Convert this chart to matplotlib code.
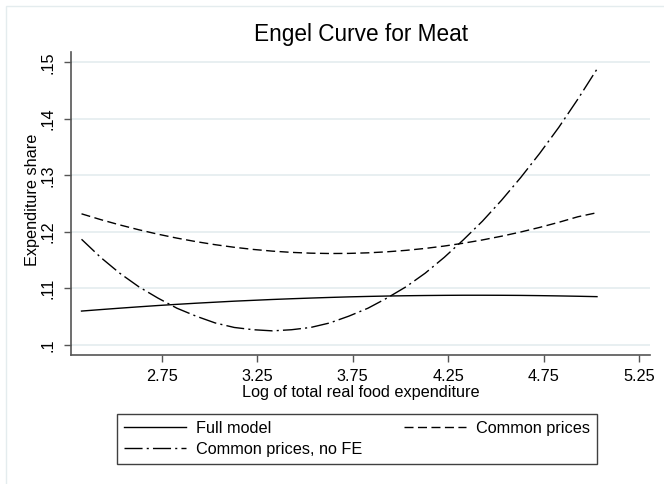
import matplotlib
matplotlib.use("Agg")
import matplotlib.pyplot as plt
from matplotlib.patches import Rectangle

plt.rcParams['font.family'] = ['Liberation Sans', 'DejaVu Sans']

# ---- data ----
log_exp = [2.33, 2.43, 2.53, 2.63, 2.73, 2.83, 2.93, 3.03, 3.13, 3.23,
           3.33, 3.43, 3.53, 3.63, 3.73, 3.83, 3.93, 4.03, 4.13, 4.23,
           4.33, 4.43, 4.53, 4.63, 4.73, 4.83, 4.93, 5.03]
full_model = [0.10600, 0.10626, 0.10651, 0.10675, 0.10698, 0.10719, 0.10739, 0.10757, 0.10775, 0.10790,
              0.10805, 0.10818, 0.10830, 0.10841, 0.10851, 0.10859, 0.10866, 0.10871, 0.10875, 0.10878,
              0.10880, 0.10880, 0.10879, 0.10877, 0.10873, 0.10868, 0.10862, 0.10855]
common_prices = [0.12320, 0.12218, 0.12124, 0.12038, 0.11960, 0.11890, 0.11828, 0.11774, 0.11728, 0.11690,
                 0.11660, 0.11638, 0.11624, 0.11618, 0.11620, 0.11630, 0.11648, 0.11674, 0.11708, 0.11750,
                 0.11800, 0.11858, 0.11924, 0.11998, 0.12080, 0.12170, 0.12268, 0.12340]
common_no_fe = [0.11870, 0.11550, 0.11270, 0.11030, 0.10830, 0.10650, 0.10510, 0.10390, 0.10310, 0.10270,
                0.10250, 0.10270, 0.10310, 0.10390, 0.10510, 0.10650, 0.10830, 0.11030, 0.11270, 0.11550,
                0.11860, 0.12190, 0.12560, 0.12960, 0.13390, 0.13850, 0.14350, 0.14880]
series_labels = ["Full model", "Common prices", "Common prices, no FE"]
x_ticks = [2.75, 3.25, 3.75, 4.25, 4.75, 5.25]
x_tick_labels = ["2.75", "3.25", "3.75", "4.25", "4.75", "5.25"]
y_ticks = [0.10, 0.11, 0.12, 0.13, 0.14, 0.15]
y_tick_labels = [".1", ".11", ".12", ".13", ".14", ".15"]
title = "Engel Curve for Meat"
x_label = "Log of total real food expenditure"
y_label = "Expenditure share"

W, H = 664, 484
fig = plt.figure(figsize=(W / 100, H / 100), dpi=100)
fig.patch.set_facecolor("white")

# outer light frame (graph region border)
fig.patches.append(Rectangle((6 / W, -0.05), 1.2, 1 - 6 / H + 0.05,
                             transform=fig.transFigure, fill=False,
                             edgecolor="#E4ECEE", linewidth=1.0))

ax = fig.add_axes([71 / W, 1 - 355 / H, (650 - 71) / W, (355 - 52) / H])
ax.set_facecolor("white")

lw = 1.0
l1, = ax.plot(log_exp, full_model, color="black", lw=lw, linestyle="-")
l2, = ax.plot(log_exp, common_prices, color="black", lw=lw, linestyle=(0, (6.5, 3.2)))
l3, = ax.plot(log_exp, common_no_fe, color="black", lw=lw, linestyle=(0, (13, 3, 1.5, 3)))

ax.set_xlim(2.2749, 5.3076)
ax.set_ylim(0.09823, 0.15182)
ax.set_xticks(x_ticks)
ax.set_xticklabels(x_tick_labels)
ax.set_yticks(y_ticks)
ax.set_yticklabels(y_tick_labels)

for s in ["top", "right"]:
    ax.spines[s].set_visible(False)
for s in ["left", "bottom"]:
    ax.spines[s].set_color("#555555")
    ax.spines[s].set_linewidth(1.2)

ax.grid(axis="y", color="#E6EEF0", linewidth=1.3)
ax.set_axisbelow(True)
ax.tick_params(axis="both", direction="out", length=5, width=1.0, color="#555555",
               labelsize=11.7, labelcolor="black")
ax.tick_params(axis="x", pad=5)
ax.tick_params(axis="y", pad=6)
for t in ax.get_yticklabels():
    t.set_rotation(90)
    t.set_va("center")

ax.set_xlabel(x_label, fontsize=11.7)
ax.xaxis.set_label_coords(0.5, (355 - 392) / 303)
ax.xaxis.label.set_va("center")
ax.set_ylabel(y_label, fontsize=11.7)
ax.yaxis.set_label_coords((33 - 71) / 579, 0.513)
ax.yaxis.label.set_va("center")

fig.text(360.9 / W, 1 - 35 / H, title, fontsize=16.3, ha="center", va="center")

leg = fig.legend([l1, l3, l2], [series_labels[0], series_labels[2], series_labels[1]],
                 ncol=2, loc="lower left",
                 bbox_to_anchor=(117 / W, 1 - 464 / H),
                 bbox_transform=fig.transFigure,
                 fontsize=11.7, frameon=True, fancybox=False, shadow=False,
                 handlelength=3.8, handletextpad=0.6, labelspacing=0.35,
                 borderpad=0.45, borderaxespad=0, columnspacing=2.6)
leg.get_frame().set_edgecolor("#404040")
leg.get_frame().set_linewidth(1.0)
leg.get_frame().set_alpha(1)

fig.savefig("out.png", dpi=100)
